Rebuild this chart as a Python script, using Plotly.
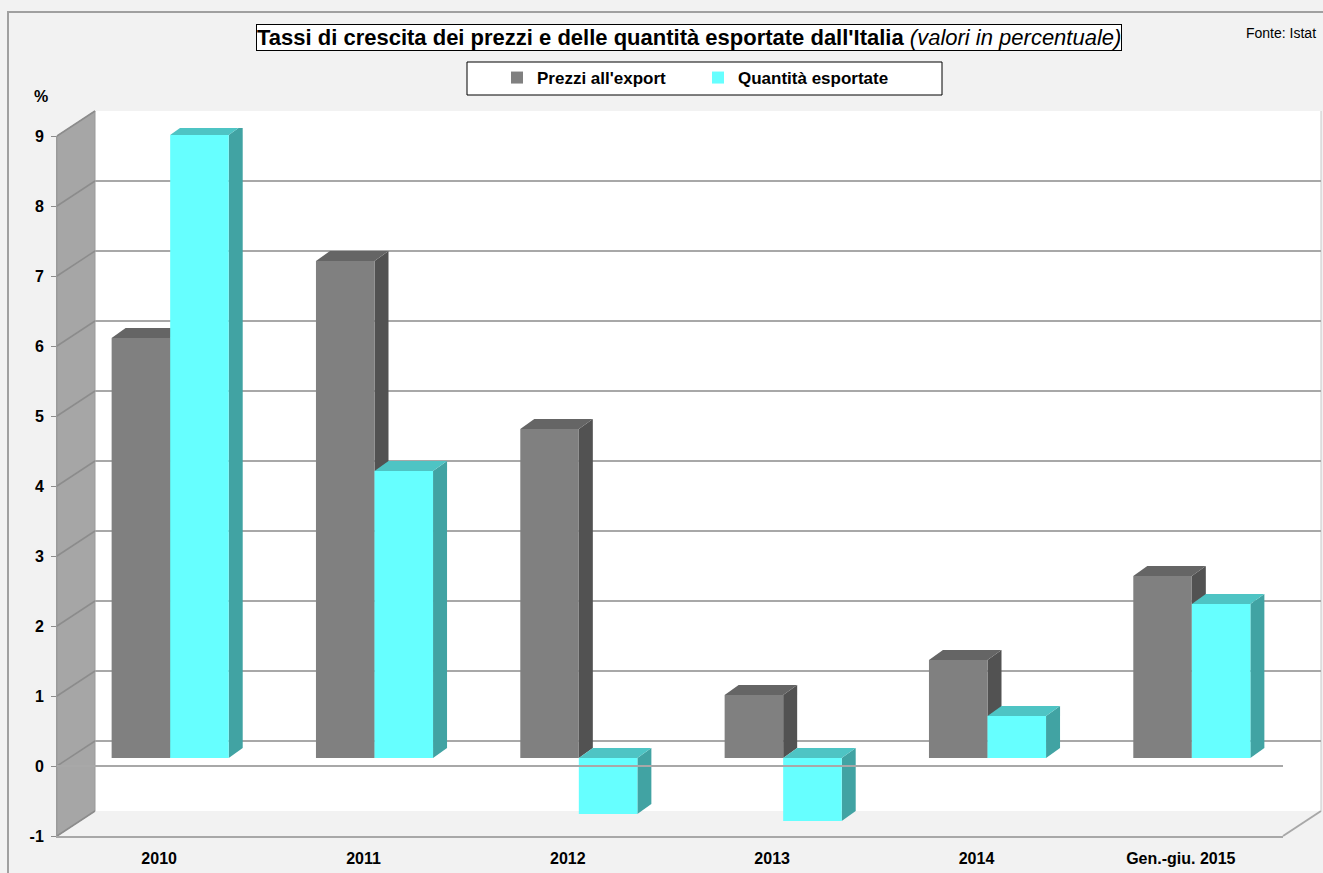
import plotly.graph_objects as go

# ---- data -------------------------------------------------------------
categories = ["2010", "2011", "2012", "2013", "2014", "Gen.-giu. 2015"]
prezzi_export = [6.0, 7.1, 4.7, 0.9, 1.4, 2.6]
quantita_esportate = [8.9, 4.1, -0.8, -0.9, 0.6, 2.2]
y_ticks = list(range(-1, 10))
y_tick_labels = [str(v) for v in y_ticks]

series_names = ["Prezzi all'export", "Quantità esportate"]
front_colors = ["#808080", "#66FFFF"]
top_colors = ["#656565", "#4EC4C4"]
side_colors = ["#525252", "#41A3A3"]

# ---- geometry of the oblique 3D box (pixels on a 1323x873 canvas) ----
W, H = 1323, 873
UNIT = 70.0            # pixels per percentage point
Y_MIN, Y_MAX = -1, 9
PLANE_W = 1226         # width of each depth plane
BACK = (95, 741)       # (left edge, zero line) of the back wall
BARS = (68, 758)       # plane holding the front faces of the bars
FRONT = (57, 766)      # front plane carrying the axes labels
BARGAP = 0.427
BAR_DX = 14 / (PLANE_W / len(categories))   # bar depth in category units
BAR_DY = 10 / UNIT                          # bar depth in value units

GRID = "#A8A8A8"
FONT = "Liberation Sans, Arial, sans-serif"


def fx(p):
    return p / W


def fy(p):
    return 1 - p / H


def xdom(plane):
    return [fx(plane[0]), fx(plane[0] + PLANE_W)]


def ydom(plane):
    return [fy(plane[1] - Y_MIN * UNIT), fy(plane[1] - Y_MAX * UNIT)]


def ypx(plane, v):
    return plane[1] - v * UNIT


fig = go.Figure()

# empty traces so the back-wall and front-plane subplots are created
fig.add_trace(go.Scatter(x=[None], y=[None], xaxis="x", yaxis="y",
                         showlegend=False, hoverinfo="skip"))
fig.add_trace(go.Scatter(x=categories, y=[None] * len(categories), xaxis="x3", yaxis="y3",
                         mode="markers", showlegend=False, hoverinfo="skip"))

# front faces of the columns
for name, vals, col in zip(series_names, [prezzi_export, quantita_esportate], front_colors):
    fig.add_trace(go.Bar(
        x=categories, y=vals, name=name, xaxis="x2", yaxis="y2",
        marker=dict(color=col, line=dict(width=0)),
        hoverinfo="x+y",
    ))

shapes = []

# walls and floor
bx0, bx1 = BACK[0], BACK[0] + PLANE_W
fx0, fx1 = FRONT[0], FRONT[0] + PLANE_W
shapes.append(dict(type="rect", xref="paper", yref="paper", layer="below",
                   x0=fx(bx0), x1=fx(bx1), y0=fy(ypx(BACK, Y_MIN)), y1=fy(ypx(BACK, Y_MAX)),
                   fillcolor="white", line=dict(width=0)))
side = "M{},{} L{},{} L{},{} L{},{} Z".format(
    fx(fx0), fy(ypx(FRONT, Y_MAX)), fx(bx0), fy(ypx(BACK, Y_MAX)),
    fx(bx0), fy(ypx(BACK, Y_MIN)), fx(fx0), fy(ypx(FRONT, Y_MIN)))
shapes.append(dict(type="path", xref="paper", yref="paper", layer="below", path=side,
                   fillcolor="#A6A6A6", line=dict(color="#9A9A9A", width=1)))
for v in y_ticks:
    shapes.append(dict(type="line", xref="paper", yref="paper", layer="below",
                       x0=fx(fx0), y0=fy(ypx(FRONT, v)), x1=fx(bx0), y1=fy(ypx(BACK, v)),
                       line=dict(color="#8C8C8C", width=1.5)))
# floor: right-hand depth edge
shapes.append(dict(type="line", xref="paper", yref="paper", layer="below",
                   x0=fx(fx1), y0=fy(ypx(FRONT, Y_MIN)), x1=fx(bx1), y1=fy(ypx(BACK, Y_MIN)),
                   line=dict(color=GRID, width=2)))
shapes.append(dict(type="line", xref="paper", yref="paper", layer="below",
                   x0=fx(bx1), y0=fy(ypx(BACK, Y_MIN)), x1=fx(bx1), y1=fy(ypx(BACK, Y_MAX)),
                   line=dict(color="#C8C8C8", width=1)))

# top and side faces of the columns
w = (1 - BARGAP) / 2
for s, vals in enumerate([prezzi_export, quantita_esportate]):
    for i, v in enumerate(vals):
        left = i - w + s * w
        right = left + w
        top = max(v, 0)
        bot = min(v, 0)
        side_path = "M{},{} L{},{} L{},{} L{},{} Z".format(
            right, bot, right, top, right + BAR_DX, top + BAR_DY, right + BAR_DX, bot + BAR_DY)
        top_path = "M{},{} L{},{} L{},{} L{},{} Z".format(
            left, top, right, top, right + BAR_DX, top + BAR_DY, left + BAR_DX, top + BAR_DY)
        shapes.append(dict(type="path", xref="x2", yref="y2", layer="below", path=side_path,
                           fillcolor=side_colors[s], line=dict(width=0)))
        shapes.append(dict(type="path", xref="x2", yref="y2", layer="below", path=top_path,
                           fillcolor=top_colors[s], line=dict(width=0)))

# front zero line, drawn over the columns
shapes.append(dict(type="line", xref="paper", yref="y3", layer="above",
                   x0=fx(fx0), x1=fx(fx1), y0=0, y1=0,
                   line=dict(color=GRID, width=2)))

# legend box and outer chart border
shapes.append(dict(type="rect", xref="paper", yref="paper", layer="below",
                   x0=fx(467), x1=fx(942), y0=fy(95), y1=fy(62),
                   fillcolor="white", line=dict(color="black", width=1)))
shapes.append(dict(type="rect", xref="paper", yref="paper", layer="below",
                   x0=fx(8), x1=fx(1340), y0=fy(890), y1=fy(12),
                   fillcolor="rgba(0,0,0,0)", line=dict(color="#A0A0A0", width=2)))

annotations = [
    dict(text="<b>Tassi di crescita dei prezzi e delle quantità esportate dall'Italia</b> "
              "<i>(valori in percentuale)</i>",
         xref="paper", yref="paper", x=fx(689), y=fy(38), xanchor="center", yanchor="middle",
         showarrow=False, font=dict(family=FONT, size=22, color="black"),
         bgcolor="white", bordercolor="black", borderwidth=1, borderpad=0),
    dict(text="Fonte: Istat", xref="paper", yref="paper", x=fx(1318), y=fy(33),
         xanchor="right", yanchor="middle", showarrow=False,
         font=dict(family=FONT, size=14, color="black")),
    dict(text="<b>%</b>", xref="paper", yref="paper", x=fx(41), y=fy(96),
         xanchor="center", yanchor="middle", showarrow=False,
         font=dict(family=FONT, size=16, color="black")),
]

fig.update_layout(
    width=W, height=H,
    margin=dict(l=0, r=0, t=0, b=0, autoexpand=False),
    paper_bgcolor="#F2F2F2",
    plot_bgcolor="rgba(0,0,0,0)",
    barmode="group", bargap=BARGAP, bargroupgap=0,
    showlegend=True,
    legend=dict(orientation="h", x=fx(497), y=fy(78), xanchor="left", yanchor="middle",
                bgcolor="rgba(0,0,0,0)", borderwidth=0,
                font=dict(family=FONT, size=17, color="black", weight="bold"),
                entrywidth=156, entrywidthmode="pixels", itemwidth=30,
                traceorder="normal"),
    font=dict(family=FONT, color="black"),
    # back wall: gridlines
    xaxis=dict(domain=xdom(BACK), range=[0, 1], visible=False, anchor="y", automargin=False),
    yaxis=dict(domain=ydom(BACK), range=[Y_MIN, Y_MAX], tickvals=y_ticks,
               showticklabels=False, ticks="", showgrid=True, gridcolor=GRID, gridwidth=2,
               zeroline=False, showline=False, anchor="x", automargin=False),
    # plane of the columns
    xaxis2=dict(domain=xdom(BARS), type="category", range=[-0.5, len(categories) - 0.5],
                visible=False, anchor="y2", automargin=False),
    yaxis2=dict(domain=ydom(BARS), range=[Y_MIN, Y_MAX], visible=False, anchor="x2",
                automargin=False),
    # front plane: axis labels
    xaxis3=dict(domain=xdom(FRONT), type="category", range=[-0.5, len(categories) - 0.5],
                categoryorder="array", categoryarray=categories,
                anchor="y3", side="bottom", automargin=False,
                showline=True, linecolor=GRID, linewidth=2, ticks="", showgrid=False,
                zeroline=False, ticklabelstandoff=7,
                tickfont=dict(family=FONT, size=16, color="black", weight="bold")),
    yaxis3=dict(domain=ydom(FRONT), range=[Y_MIN, Y_MAX], tickvals=y_ticks,
                ticktext=y_tick_labels, anchor="x3", automargin=False,
                showline=True, linecolor="#9A9A9A", linewidth=1, ticks="outside", ticklen=5,
                tickcolor="#8C8C8C", tickwidth=1, showgrid=False, zeroline=False,
                ticklabelstandoff=4,
                tickfont=dict(family=FONT, size=16, color="black", weight="bold")),
    shapes=shapes,
    annotations=annotations,
)

fig.write_html("out.html")
